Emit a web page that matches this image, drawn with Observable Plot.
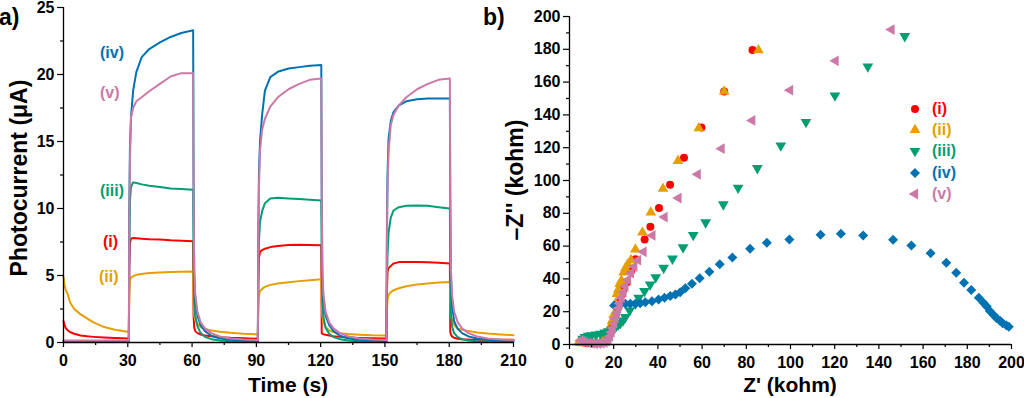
<!DOCTYPE html>
<html><head><meta charset="utf-8">
<script src="https://cdn.jsdelivr.net/npm/d3@7"></script>
<script src="https://cdn.jsdelivr.net/npm/@observablehq/plot@0.6"></script>
<style>
body{margin:0;background:#fff;font-family:"Liberation Sans",Arial,sans-serif;}
#wrap{position:relative;width:1024px;height:398px;overflow:hidden;background:#fff;}
#left,#right{position:absolute;top:0;}
#left{left:0;}
#right{left:510px;}
.t{position:absolute;font-weight:bold;white-space:nowrap;line-height:1;}
.panel{font-size:23px;}
.xt{font-size:21px;transform:translateX(-50%);}
.yt{font-size:23px;transform:translate(-50%,-50%) rotate(-90deg);}
.ann{font-size:16px;transform:translateY(-50%);}
.leg{position:absolute;display:flex;align-items:center;font-weight:bold;font-size:16px;line-height:1;transform:translateY(-50%);}
.leg svg{margin-right:11px;}
</style></head>
<body><div id="wrap"><div id="left"></div><div id="right"></div></div>
<script>
// ---------- Panel a: photocurrent transients ----------
const T = [0, 0.5, 1, 2, 3, 5, 8, 11, 14, 19, 24, 30.5,
  30.7, 31, 31.5, 32.5, 34, 36.5, 40, 45, 50, 55, 60.5,
  60.7, 61, 61.5, 62.5, 64, 66, 69, 73, 78, 84, 90.7,
  90.9, 91.2, 91.7, 92.7, 94, 96.5, 100, 105, 110, 115, 120.3,
  120.5, 120.8, 121.3, 122.3, 124, 126, 129, 133, 138, 144, 150.7,
  150.9, 151.2, 151.7, 152.7, 154, 156.5, 160, 165, 170, 175, 180.3,
  180.5, 180.8, 181.3, 182.3, 184, 186, 189, 193, 198, 204, 210];

const photoI = [1.6, 1.3, 1.1, 0.9, 0.78, 0.65, 0.52, 0.46, 0.42, 0.37, 0.33, 0.3,
  5.5, 7.4, 7.75, 7.8, 7.78, 7.75, 7.7, 7.68, 7.63, 7.6, 7.56,
  2.0, 1.1, 0.85, 0.7, 0.6, 0.52, 0.46, 0.4, 0.35, 0.32, 0.28,
  4.5, 6.3, 6.75, 6.9, 7.0, 7.12, 7.2, 7.28, 7.3, 7.28, 7.25,
  0.7, 0.65, 0.62, 0.58, 0.52, 0.47, 0.42, 0.38, 0.34, 0.31, 0.3,
  3.5, 5.3, 5.55, 5.7, 5.9, 6.0, 6.0, 6.0, 5.98, 5.95, 5.9,
  0.8, 0.6, 0.45, 0.35, 0.28, 0.25, 0.22, 0.2, 0.2, 0.2, 0.2];

const photoII = [4.9, 4.3, 3.95, 3.6, 3.0, 2.5, 2.1, 1.8, 1.5, 1.15, 0.95, 0.78,
  3.6, 4.6, 4.85, 4.95, 5.05, 5.12, 5.18, 5.22, 5.26, 5.28, 5.3,
  3.0, 2.0, 1.7, 1.4, 1.15, 1.0, 0.9, 0.8, 0.72, 0.65, 0.6,
  2.5, 3.5, 3.85, 4.0, 4.15, 4.3, 4.4, 4.5, 4.58, 4.65, 4.72,
  3.0, 2.0, 1.5, 1.15, 0.9, 0.78, 0.7, 0.63, 0.58, 0.54, 0.52,
  2.3, 3.2, 3.55, 3.75, 3.9, 4.05, 4.2, 4.32, 4.4, 4.47, 4.52,
  3.0, 2.0, 1.6, 1.3, 1.05, 0.95, 0.85, 0.75, 0.67, 0.6, 0.55];

const photoIII = [0.1, 0.1, 0.1, 0.1, 0.1, 0.1, 0.1, 0.1, 0.1, 0.1, 0.1, 0.1,
  7, 10.5, 11.6, 11.95, 11.9, 11.8, 11.7, 11.6, 11.5, 11.45, 11.4,
  6, 3.0, 2.0, 1.2, 0.7, 0.42, 0.25, 0.15, 0.1, 0.08, 0.08,
  4.5, 7.5, 9.0, 9.8, 10.4, 10.75, 10.8, 10.75, 10.7, 10.65, 10.6,
  6, 3.0, 1.9, 1.1, 0.65, 0.4, 0.25, 0.15, 0.1, 0.08, 0.08,
  4, 6.5, 8.2, 9.3, 9.85, 10.1, 10.2, 10.22, 10.2, 10.1, 10.0,
  5, 2.2, 1.2, 0.7, 0.4, 0.25, 0.15, 0.1, 0.08, 0.08, 0.08];

const photoIV = [0.12, 0.12, 0.12, 0.12, 0.12, 0.12, 0.12, 0.12, 0.12, 0.12, 0.12, 0.12,
  10, 14.5, 16.8, 18.8, 20.2, 21.3, 21.9, 22.4, 22.8, 23.1, 23.3,
  12, 5, 3.2, 2.0, 1.3, 0.85, 0.5, 0.3, 0.2, 0.15, 0.12,
  8, 12.5, 15.0, 17.0, 18.8, 19.8, 20.2, 20.45, 20.55, 20.65, 20.7,
  11, 5, 3.2, 2.0, 1.3, 0.85, 0.5, 0.3, 0.2, 0.15, 0.12,
  8, 12.5, 15.2, 16.5, 17.2, 17.7, 18.0, 18.15, 18.2, 18.2, 18.2,
  10, 5, 2.8, 1.6, 1.0, 0.7, 0.45, 0.3, 0.2, 0.15, 0.12];

const photoV = [0.15, 0.15, 0.15, 0.15, 0.15, 0.15, 0.15, 0.15, 0.15, 0.15, 0.15, 0.15,
  9, 13.5, 16.8, 17.5, 18.0, 18.3, 18.75, 19.3, 19.85, 20.1, 20.1,
  11, 5.5, 3.6, 2.3, 1.5, 1.05, 0.7, 0.45, 0.3, 0.22, 0.18,
  7, 11.5, 14.3, 15.9, 16.7, 17.6, 18.3, 18.9, 19.3, 19.6, 19.7,
  11, 5.5, 3.6, 2.3, 1.5, 1.05, 0.7, 0.45, 0.3, 0.22, 0.18,
  7, 11.5, 14.2, 16.2, 17.0, 17.7, 18.3, 18.9, 19.3, 19.6, 19.7,
  11, 5.5, 3.6, 2.3, 1.5, 1.05, 0.7, 0.45, 0.3, 0.22, 0.18];

const seriesNames = ["(i)", "(ii)", "(iii)", "(iv)", "(v)"];
const colors = ["#FF0000", "#E69F00", "#009E73", "#0072B2", "#CC79A7"];

const timeTicks = [0, 30, 60, 90, 120, 150, 180, 210];
const timeMinor = [15, 45, 75, 105, 135, 165, 195];
const currentTicks = [0, 5, 10, 15, 20, 25];
const currentMinor = [2.5, 7.5, 12.5, 17.5, 22.5];

// ---------- Panel b: Nyquist ----------
const zReI = [5.5, 6.5, 8, 10, 12, 14, 16, 17, 18, 18.8, 19.5, 20.2, 21, 21.8, 22.6, 23.4, 24.5, 26, 27.8, 29.8, 34, 36.6, 40.5, 45.5, 51.8, 59.7, 70, 82.8];
const zImI = [2, 1.2, 0.8, 0.6, 0.6, 0.8, 1.5, 3, 5, 8, 11, 14, 18, 22, 26, 30, 33.5, 38, 44.7, 52, 64, 71.8, 83.2, 97.4, 113.8, 132.3, 154.3, 179.5];

const zReII = [4.2, 5, 6, 7.5, 9.5, 12, 14.5, 16.5, 17.5, 18.5, 19.3, 20, 20.8, 21.5, 22.1, 22.7, 23.5, 24.5, 25.3, 26.4, 27.8, 29.8, 33, 36.8, 42.3, 49.1, 58.5, 70, 85.5];
const zImII = [1.4, 1, 0.8, 1.0, 1.2, 1.5, 2.5, 5, 8, 11, 14.5, 18, 24.8, 30.9, 33.5, 37, 39, 44, 46.5, 49, 51.5, 58, 68.3, 80.5, 95, 112, 131.9, 154.3, 179.5];

const zReIII = [6, 7, 8.5, 10, 12, 14, 16, 17.5, 19, 20, 21, 22, 23, 24.2, 25.3, 27.2, 29.8, 31.3, 33.9, 36.5, 39, 42.6, 46.6, 51.4, 56, 61.6, 69.6, 76.3, 85, 95.6, 107, 120.1, 135, 151.7];
const zImIII = [3.5, 4.5, 5.2, 5.6, 6, 6.5, 7.2, 8, 9, 10, 11, 12, 13, 14.6, 16.7, 20.7, 24.8, 28.5, 32.5, 36.5, 41, 46.7, 52.3, 59.2, 66.7, 74.4, 85.4, 95.5, 107.5, 121.3, 135.6, 151.8, 169.5, 188];

const zReIV = [20.2, 23, 25.3, 27.5, 29.8, 32, 34.3, 37.3, 40.3, 43, 45.6, 47.9, 50.1, 52.4, 55.4, 58.9, 63.3, 68, 73.7, 81.7, 89.3, 99.5, 113.6, 122.8, 132.9, 146.4, 154.7, 163.4, 170.5, 175, 178.5, 181.8, 185.2, 187.3, 188.8, 190.2, 192, 193.3, 194.8, 196, 197.6, 198.8];
const zImIV = [23.8, 24.4, 24.8, 24.8, 24.8, 25.2, 25.8, 26.4, 27.4, 28.5, 29.5, 30.5, 31.9, 34.3, 37, 40.4, 44.3, 48.9, 53, 58.4, 62, 64, 66.9, 67.5, 66.5, 63.8, 60.4, 55.7, 49.8, 43.7, 37.6, 33.3, 28.5, 25.5, 23.2, 20.5, 17.8, 16, 14.5, 13, 11.8, 10.8];

const zReV = [5, 6, 7, 8.5, 10, 11.5, 13, 14.5, 15.8, 16.8, 17.6, 18.3, 19, 19.6, 20.2, 20.8, 21.4, 22, 22.7, 23.5, 24.4, 25.3, 26.5, 27.8, 29.3, 31, 33.5, 37.5, 43, 49.3, 58, 68.8, 82.7, 99.8, 120.4, 145.7];
const zImV = [2.5, 2, 1.5, 1, 0.7, 0.5, 0.5, 0.7, 1.2, 2, 3.2, 5, 7.5, 10, 13, 16, 19, 22, 25, 28.5, 32, 35.5, 39.5, 43.5, 47.5, 51.5, 56.5, 66.5, 77.7, 89.3, 103.8, 119.4, 136.6, 155.1, 173, 192];

const zTicks = [0, 20, 40, 60, 80, 100, 120, 140, 160, 180, 200];
const zMinor = [10, 30, 50, 70, 90, 110, 130, 150, 170, 190];

// ---------- symbols ----------
const sqrt3 = Math.sqrt(3);
const triDown = {draw(ctx, size) {
  const y = -Math.sqrt(size / (sqrt3 * 3));
  ctx.moveTo(0, -2 * y); ctx.lineTo(sqrt3 * y, y); ctx.lineTo(-sqrt3 * y, y); ctx.closePath();
}};
const triLeft = {draw(ctx, size) {
  const y = -Math.sqrt(size / (sqrt3 * 3));
  ctx.moveTo(2 * y, 0); ctx.lineTo(-y, sqrt3 * y); ctx.lineTo(-y, -sqrt3 * y); ctx.closePath();
}};
const symbols = ["circle", "triangle", triDown, "diamond2", triLeft];
const d3Symbols = [d3.symbolCircle, d3.symbolTriangle, triDown, d3.symbolDiamond2, triLeft];
const radii = [4, 4, 4, 4.5, 4];

const font = "'Liberation Sans', Arial, sans-serif";
const baseStyle = {fontFamily: font, fontSize: "16px", fontWeight: "bold", color: "#000", background: "transparent", overflow: "visible", maxWidth: "none"};

// Panel a
const photo = [photoI, photoII, photoIII, photoIV, photoV];
const rowsA = seriesNames.flatMap((s, k) => T.map((t, j) => ({t, v: photo[k][j], s})));

const left = Plot.plot({
  width: 530, height: 398,
  marginLeft: 63, marginRight: 17, marginTop: 7, marginBottom: 56,
  x: {domain: [0, 210]},
  y: {domain: [0, 25]},
  color: {domain: seriesNames, range: colors},
  style: baseStyle,
  marks: [
    Plot.line(rowsA, {x: "t", y: "v", z: "s", stroke: "s", strokeWidth: 2}),
    Plot.axisX(timeMinor, {tickSize: 3, tickFormat: () => "", label: null, strokeWidth: 1.2}),
    Plot.axisX(timeTicks, {tickSize: 5, tickPadding: 7, label: null, strokeWidth: 1.2}),
    Plot.axisY(currentMinor, {tickSize: 3, tickFormat: () => "", label: null, strokeWidth: 1.2}),
    Plot.axisY(currentTicks, {tickSize: 6, tickPadding: 3, label: null, strokeWidth: 1.2}),
    Plot.ruleY([0], {strokeWidth: 1.3}),
    Plot.ruleX([0], {strokeWidth: 1.3})
  ]
});
document.getElementById("left").appendChild(left);

// Panel b
const zRe = [zReI, zReII, zReIII, zReIV, zReV];
const zIm = [zImI, zImII, zImIII, zImIV, zImV];
const right = Plot.plot({
  width: 514, height: 398,
  marginLeft: 59, marginRight: 13, marginTop: 16, marginBottom: 54,
  x: {domain: [0, 200]},
  y: {domain: [0, 200]},
  style: baseStyle,
  marks: [
    ...seriesNames.map((s, k) => Plot.dot(zRe[k].map((x, j) => ({x, y: zIm[k][j]})), {
      x: "x", y: "y", fill: colors[k], stroke: "none", symbol: symbols[k], r: radii[k]
    })),
    Plot.axisX(zMinor, {tickSize: 3, tickFormat: () => "", label: null, strokeWidth: 1.2}),
    Plot.axisX(zTicks, {tickSize: 5, tickPadding: 7, label: null, strokeWidth: 1.2}),
    Plot.axisY(zMinor, {tickSize: 3, tickFormat: () => "", label: null, strokeWidth: 1.2}),
    Plot.axisY(zTicks, {tickSize: 6, tickPadding: 3, label: null, strokeWidth: 1.2}),
    Plot.ruleY([0], {strokeWidth: 1.3}),
    Plot.ruleX([0], {strokeWidth: 1.3})
  ]
});
document.getElementById("right").appendChild(right);

// ---------- text overlays ----------
const wrap = document.getElementById("wrap");
function addText(html, cls, css) {
  const d = document.createElement("div");
  d.className = "t " + cls;
  d.innerHTML = html;
  Object.assign(d.style, css);
  wrap.appendChild(d);
  return d;
}
addText("a)", "panel", {left: "-1px", top: "6px"});
addText("b)", "panel", {left: "483px", top: "6px"});
addText("Time (s)", "xt", {left: "288px", top: "374px"});
addText("Z' (kohm)", "xt", {left: "790px", top: "374px"});
addText("Photocurrent (\u03bcA)", "yt", {left: "19px", top: "178px"});
addText("\u2013Z'' (kohm)", "yt", {left: "515px", top: "180px"});

// Panel a series labels
const annTop = [242, 277, 191, 53, 93];
const annLeft = [103, 99, 100, 100, 100];
seriesNames.forEach((s, k) => addText(s, "ann", {left: annLeft[k] + "px", top: annTop[k] + "px", color: colors[k]}));

// Panel b legend
seriesNames.forEach((s, k) => {
  const d = document.createElement("div");
  d.className = "leg";
  d.style.left = "909px";
  d.style.top = (109 + k * 21.2) + "px";
  d.style.color = colors[k];
  const size = radii[k] * radii[k] * Math.PI;
  d.innerHTML = `<svg width="12" height="12" viewBox="-6 -6 12 12"><path d="${d3.symbol(d3Symbols[k], size)()}" fill="${colors[k]}"/></svg><span>${s}</span>`;
  wrap.appendChild(d);
});
</script>
</body></html>
